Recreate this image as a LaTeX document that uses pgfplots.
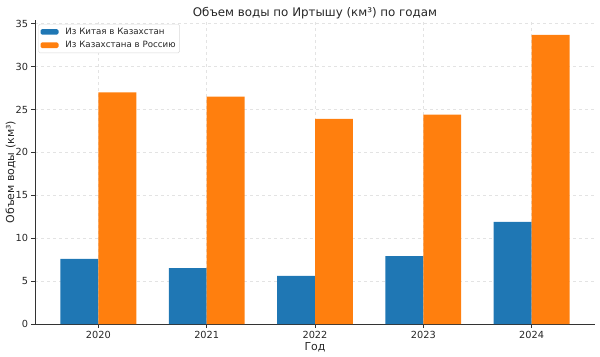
\documentclass[border=0pt]{standalone}
\usepackage{pgfplots}
\pgfplotsset{compat=1.18}
\usepackage{fontspec}
\setmainfont{DejaVu Sans}
\definecolor{mblue}{HTML}{1F77B4}
\definecolor{morange}{HTML}{FF7F0E}
\begin{document}
\begin{tikzpicture}
\begin{axis}[
  name=ax,
  at={(0,0)}, anchor=south west,
  scale only axis,
  width=560bp, height=303.6bp,
  xmin=-0.585, xmax=4.585,
  ymin=0, ymax=35.385,
  xtick={0,1,2,3,4},
  xticklabels={2020,2021,2022,2023,2024},
  ytick={0,5,10,15,20,25,30,35},
  /pgf/number format/assume math mode=true,
  tick label style={font=\fontsize{9.8}{11}\selectfont, text=black!85},
  axis x line*=bottom, axis y line*=left,
  axis line style={black!80, line width=0.8pt, -},
  tick align=outside, major tick length=3.5bp,
  tick style={black!80, line width=0.6pt},
  grid=major,
  major grid style={gray!22, dashed, line width=0.5pt},
  title={Объем воды по Иртышу (км³) по годам},
  title style={font=\fontsize{11.9}{13}\selectfont, text=black!85, yshift=-8bp},
  xlabel={Год},
  ylabel={Объем воды (км³)},
  label style={font=\fontsize{11}{13}\selectfont, text=black!85},
  xlabel style={yshift=3bp},
  ylabel style={yshift=-7bp},
  legend style={at={(0.0059,0.988)}, anchor=north west,
    font=\fontsize{8.7}{10}\selectfont, draw=gray!30, rounded corners=1.5pt,
    row sep=1.5bp, inner xsep=2bp, inner ysep=1.8bp, text=black!85},
  legend cell align=left,
  legend image code/.code={\fill[#1] (0bp,-2.8bp) rectangle (18bp,2.8bp); \path (23bp,0bp);},
]
\addplot[ybar, bar width=0.35, bar shift=-0.175, fill=mblue, draw=none]
  coordinates {(0,7.6) (1,6.5) (2,5.6) (3,7.9) (4,11.9)};
\addlegendentry{Из Китая в Казахстан}
\addplot[ybar, bar width=0.35, bar shift=0.175, fill=morange, draw=none]
  coordinates {(0,27.0) (1,26.5) (2,23.9) (3,24.4) (4,33.7)};
\addlegendentry{Из Казахстана в Россию}
\end{axis}
\pgfresetboundingbox
\path[use as bounding box] (-35bp,-33bp) rectangle (565bp,324bp);
\end{tikzpicture}
\end{document}
